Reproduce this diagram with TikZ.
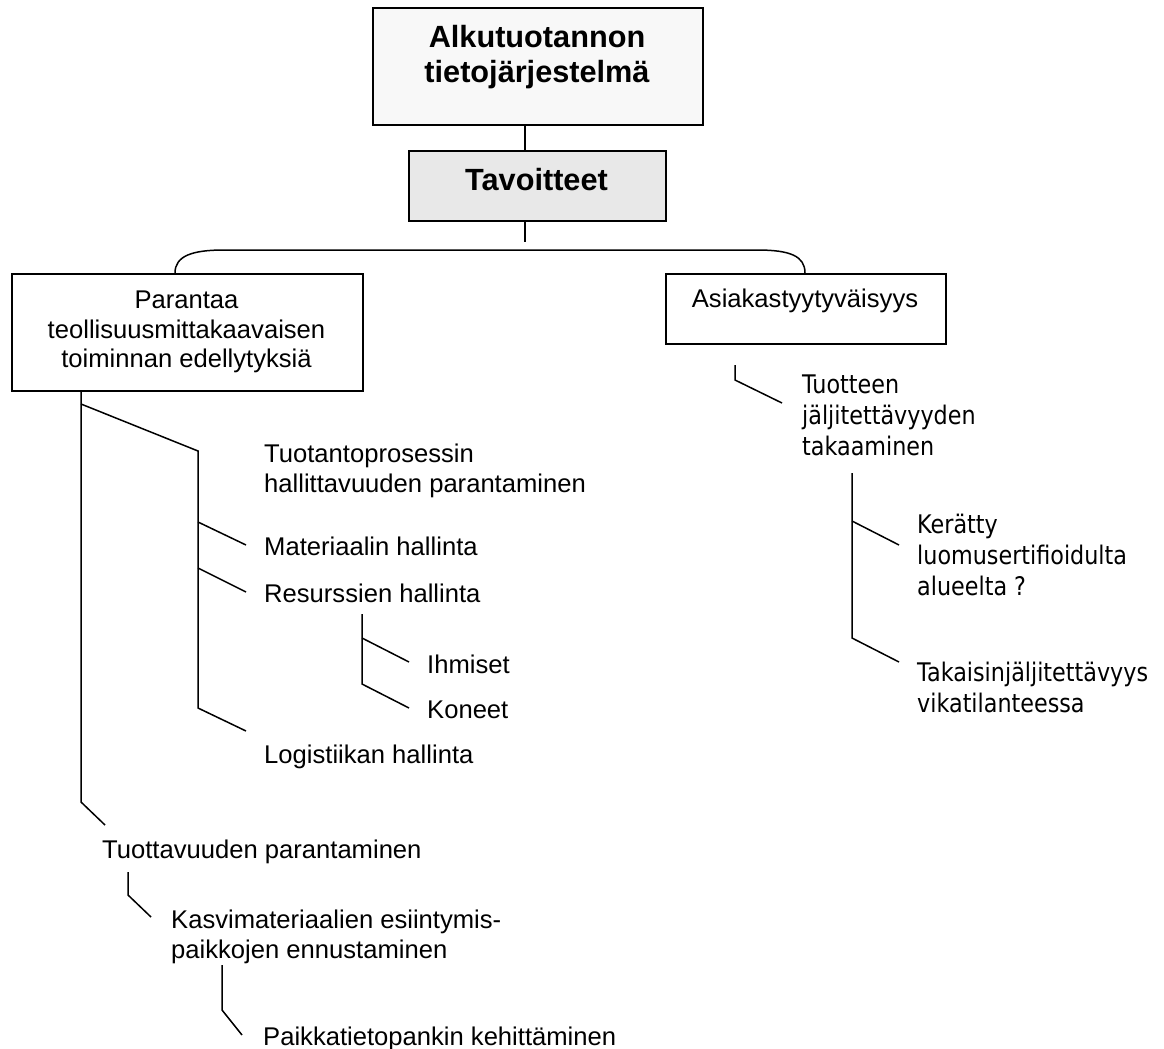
\documentclass[tikz,border=0pt]{standalone}
\usepackage{fontspec}
\setmainfont{Liberation Sans}
\newfontfamily\tahfont[FakeStretch=0.87]{DejaVu Sans}
\definecolor{topfill}{RGB}{248,248,248}
\definecolor{goalfill}{RGB}{232,232,232}
\begin{document}
\begin{tikzpicture}[x=1bp,y=-1bp,
  box/.style={draw=black, line width=1.6bp, inner sep=0, anchor=north west},
  conn/.style={draw=black, line width=1.5bp},
  txt/.style={font=\fontsize{25.7}{29.6}\selectfont, inner sep=0},
  tah/.style={font=\tahfont\fontsize{25.7}{31}\selectfont, inner sep=0},
  hd/.style={font=\bfseries\fontsize{30.8}{35.4}\selectfont, inner sep=0}]
\fill[white] (0,0) rectangle (1164,1049);
\useasboundingbox (0,0) rectangle (1164,1049);

% boxes
\node[box, fill=topfill, minimum width=330bp, minimum height=117bp] (top) at (372,7) {};
\node[hd, anchor=north, align=center] (toptxt) at (537,25) {Alkutuotannon\\tietojärjestelmä};
\node[box, fill=goalfill, minimum width=257bp, minimum height=70bp] (tav) at (408,150) {};
\node[hd, anchor=base] (tavtxt) at (536.5,190) {Tavoitteet};
\node[box, minimum width=351bp, minimum height=117bp] (par) at (11,273) {};
\node[txt, anchor=north, align=center] (partxt) at (186.5,291)
  {Parantaa\\teollisuusmittakaavaisen\\toiminnan edellytyksiä};
\node[box, minimum width=280bp, minimum height=70bp] (asi) at (665,273) {};
\node[txt, anchor=base] (asitxt) at (805,307) {Asiakastyytyväisyys};

% left branch texts
\node[txt, anchor=north west, align=left] (tuo) at (264,444)
  {Tuotantoprosessin\\hallittavuuden parantaminen};
\node[txt, anchor=base west] (mat) at (264,555) {Materiaalin hallinta};
\node[txt, anchor=base west] (res) at (264,602) {Resurssien hallinta};
\node[txt, anchor=base west] (ihm) at (427,673) {Ihmiset};
\node[txt, anchor=base west] (kon) at (427,718) {Koneet};
\node[txt, anchor=base west] (log) at (264,763) {Logistiikan hallinta};
\node[txt, anchor=base west] (tuot) at (102,858) {Tuottavuuden parantaminen};
\node[txt, anchor=north west, align=left] (kas) at (171,910)
  {Kasvimateriaalien esiintymis-\\paikkojen ennustaminen};
\node[txt, anchor=base west] (pai) at (263,1045) {Paikkatietopankin kehittäminen};

% right branch texts
\node[tah, anchor=north west, align=left] (jal) at (802,375)
  {Tuotteen\\jäljitettävyyden\\takaaminen};
\node[tah, anchor=north west, align=left] (ker) at (917,514)
  {Kerätty\\luomusertifioidulta\\alueelta ?};
\node[tah, anchor=north west, align=left] (tak) at (917,662)
  {Takaisinjäljitettävyys\\vikatilanteessa};

% spine under the top boxes
\coordinate (spine) at (525,0);
\coordinate (spineend) at (525,242);
\draw[conn] (top.south -| spine) -- (tav.north -| spine);
\draw[conn] (tav.south -| spine) -- (spineend);

% bracket joining the two goal boxes
\coordinate (bl) at (175,0);
\coordinate (br) at (805,0);
\draw[conn] (par.north -| bl) .. controls (175,256) and (192,250) .. (224,250)
  -- (757,250) .. controls (790,250) and (805,256) .. (asi.north -| br);

% left trunk
\coordinate (tr) at (81,0);
\coordinate (trb) at (81,404);
\coordinate (trend) at (81,802);
\coordinate (tuottip) at (105,825);
\draw[conn] (par.south -| tr) -- (trend) -- (tuottip);

% production process branch
\coordinate (pp) at (198,451);
\coordinate (ppend) at (198,708);
\coordinate (logtip) at (246,731);
\coordinate (matj) at (198,522);
\coordinate (mattip) at (246,545);
\coordinate (resj) at (198,568);
\coordinate (restip) at (246,592);
\draw[conn] (trb) -- (pp) -- (ppend) -- (logtip);
\draw[conn] (matj) -- (mattip);
\draw[conn] (resj) -- (restip);

% resources sub-branch
\coordinate (rs) at (362,614);
\coordinate (rsend) at (362,684);
\coordinate (kontip) at (409,708);
\coordinate (ihmj) at (362,638);
\coordinate (ihmtip) at (409,662);
\draw[conn] (rs) -- (rsend) -- (kontip);
\draw[conn] (ihmj) -- (ihmtip);

% productivity chain
\coordinate (pv) at (128,872);
\coordinate (pvend) at (128,895);
\coordinate (kastip) at (151,917);
\draw[conn] (pv) -- (pvend) -- (kastip);
\coordinate (kv) at (222,965);
\coordinate (kvend) at (222,1010);
\coordinate (paitip) at (242,1035);
\draw[conn] (kv) -- (kvend) -- (paitip);

% customer satisfaction chain
\coordinate (cs) at (735,365);
\coordinate (csend) at (735,380);
\coordinate (jaltip) at (782,403);
\draw[conn] (cs) -- (csend) -- (jaltip);
\coordinate (tv) at (852,473);
\coordinate (tvend) at (852,638);
\coordinate (taktip) at (899,662);
\coordinate (kerj) at (852,521);
\coordinate (kertip) at (899,545);
\draw[conn] (tv) -- (tvend) -- (taktip);
\draw[conn] (kerj) -- (kertip);
\end{tikzpicture}
\end{document}
